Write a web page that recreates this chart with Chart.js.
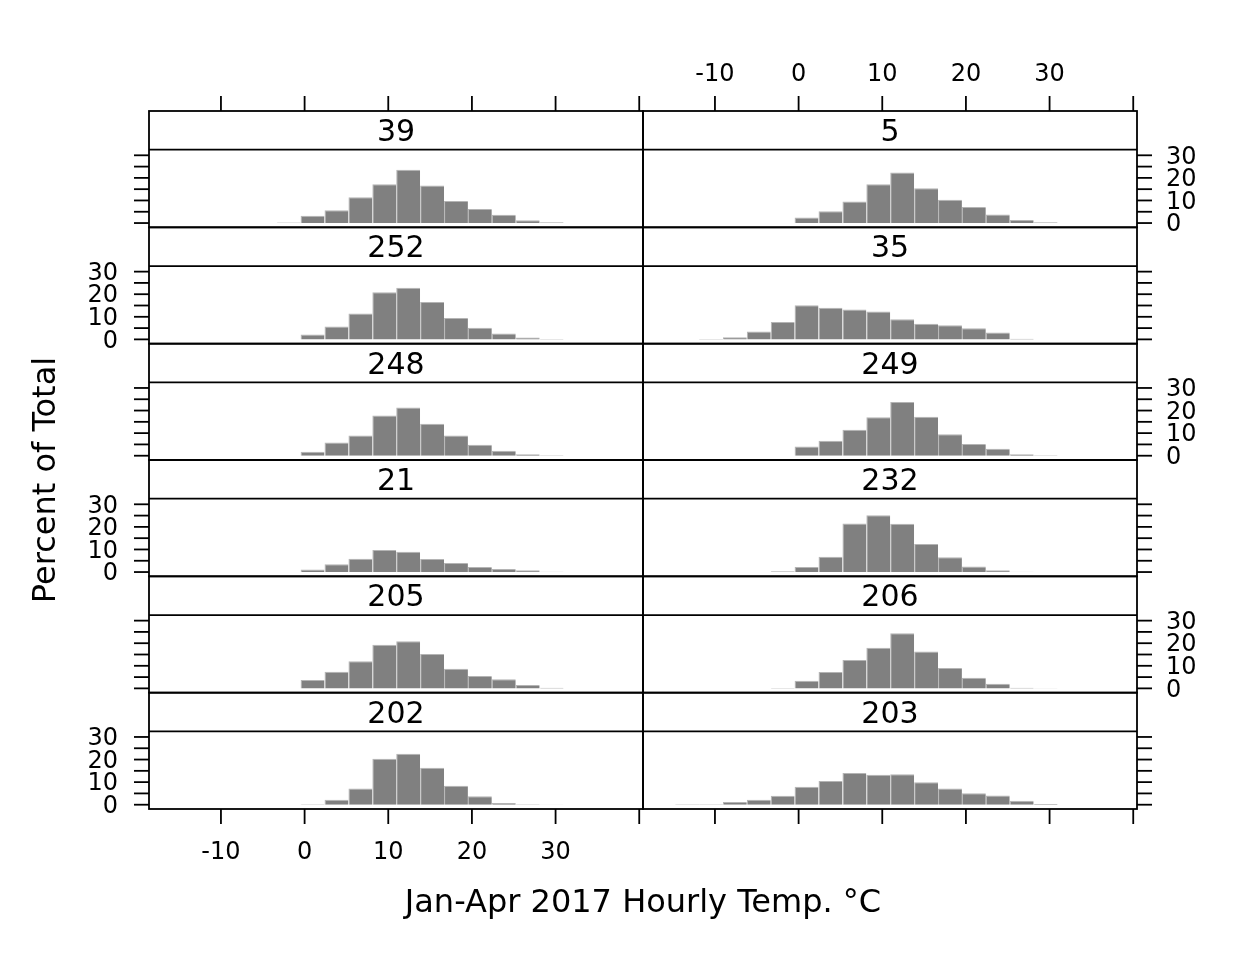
<!DOCTYPE html>
<html><head><meta charset="utf-8">
<script src="https://cdn.jsdelivr.net/npm/chart.js@4.4.1/dist/chart.umd.min.js"></script>
<style>
html,body{margin:0;padding:0;background:#fff;}
body{width:1248px;height:960px;position:relative;overflow:hidden;}
canvas{position:absolute;left:0;top:0;}
</style></head><body>
<script>
// ---- data ----
const breaks = [-14.76, -11.90, -9.05, -6.19, -3.33, -0.48, 2.38, 5.24, 8.10, 10.95, 13.81, 16.67, 19.52, 22.38, 25.24, 28.10, 30.95];
const panelNames = ['39','5','252','35','248','249','21','232','205','206','202','203'];
const s39  = [0,0,0,0,0.2,3.2,5.7,11.4,17.2,23.6,16.6,9.8,6.2,3.7,1.2,0.3];
const s5   = [0,0,0,0,0,2.5,5.2,9.5,17.2,22.4,15.4,10.3,7.1,3.8,1.4,0.3];
const s252 = [0,0,0,0,0,2.2,5.7,11.5,20.9,22.9,16.6,9.5,5.1,2.6,0.8,0.2];
const s35  = [0,0.2,0.9,3.5,7.7,15.1,14.0,13.2,12.3,8.9,6.9,6.3,4.9,3.1,0.3,0];
const s248 = [0,0,0,0,0,1.8,5.8,9.0,17.8,21.3,14.1,8.9,4.9,2.2,0.6,0.15];
const s249 = [0,0,0,0,0,4.1,6.6,11.5,17.0,23.8,17.2,9.5,5.2,3.1,0.6,0.15];
const s21  = [0,0,0,0,0,1.1,3.5,5.9,9.8,9.0,5.8,4.0,2.2,1.4,0.8,0.15];
const s232 = [0,0,0,0,0.3,2.2,6.8,21.5,25.2,21.4,12.4,6.6,2.5,0.8,0.1,0];
const s205 = [0,0,0,0,0,3.7,7.4,12.0,19.3,20.9,15.2,8.7,5.5,4.0,1.5,0.3];
const s206 = [0,0,0,0,0.15,3.4,7.2,12.6,18.0,24.4,16.3,9.0,4.7,2.0,0.3,0.05];
const s202 = [0,0,0,0,0,0.15,2.2,7.2,20.4,22.6,16.4,8.4,3.8,0.8,0.15,0.05];
const s203 = [0.15,0.15,1.2,2.2,4.0,8.0,10.5,14.0,13.3,13.5,10.0,7.2,5.1,4.1,1.7,0.3];
const xTicks = [-10, 0, 10, 20, 30, 40];
const xTickLabels = ['-10','0','10','20','30',''];
const yTicks = [0, 5, 10, 15, 20, 25, 30];
const yTickLabels = ['0','','10','','20','','30'];
const xTitle = 'Jan-Apr 2017 Hourly Temp. °C';
const yTitle = 'Percent of Total';

const series = [s39, s5, s252, s35, s248, s249, s21, s232, s205, s206, s202, s203];

// ---- layout ----
const W = 1248, H = 960;
const colX = [[149, 643], [643, 1137]];
const gridTop = 111, rowH = (809 - 111) / 6, stripH = 38.7;
const XMIN = -18.6, XMAX = 40.45, YMIN = -1.9, YMAX = 32.48;
const FONT = '"DejaVu Sans", "Liberation Sans", sans-serif';
const LW = 1.8, TICK = 15;

const mids = breaks.slice(0, -1).map((b, i) => (b + breaks[i + 1]) / 2);

series.forEach((vals, i) => {
  const r = Math.floor(i / 2), c = i % 2;
  const [x0, x1] = colX[c];
  const stripTop = gridTop + r * rowH;
  const pTop = stripTop + stripH;
  const pBot = stripTop + rowH;
  const cv = document.createElement('canvas');
  cv.width = W; cv.height = H;
  document.body.appendChild(cv);

  const framePlugin = {
    id: 'frame' + i,
    afterDraw(chart) {
      const ctx = chart.ctx;
      const xs = chart.scales.x, ys = chart.scales.y;
      ctx.save();
      ctx.strokeStyle = '#000'; ctx.fillStyle = '#000';
      ctx.lineWidth = LW;
      ctx.strokeRect(x0, stripTop, x1 - x0, rowH);
      ctx.beginPath(); ctx.moveTo(x0, pTop); ctx.lineTo(x1, pTop); ctx.stroke();
      ctx.font = '30px ' + FONT;
      ctx.textAlign = 'center'; ctx.textBaseline = 'middle';
      ctx.fillText(panelNames[i], (x0 + x1) / 2, stripTop + stripH / 2 + 3);
      ctx.font = '24px ' + FONT;
      yTicks.forEach((v, k) => {
        const y = ys.getPixelForValue(v);
        ctx.beginPath();
        if (c === 0) { ctx.moveTo(x0, y); ctx.lineTo(x0 - TICK, y); }
        else { ctx.moveTo(x1, y); ctx.lineTo(x1 + TICK, y); }
        ctx.stroke();
        const showLab = (c === 0 && r % 2 === 1) || (c === 1 && r % 2 === 0);
        if (showLab && yTickLabels[k]) {
          ctx.textBaseline = 'middle';
          if (c === 0) { ctx.textAlign = 'right'; ctx.fillText(yTickLabels[k], x0 - TICK - 16, y + 2); }
          else { ctx.textAlign = 'left'; ctx.fillText(yTickLabels[k], x1 + TICK + 14, y + 2); }
        }
      });
      xTicks.forEach((v, k) => {
        const x = xs.getPixelForValue(v);
        if (r === 0) {
          ctx.beginPath(); ctx.moveTo(x, stripTop); ctx.lineTo(x, stripTop - TICK); ctx.stroke();
          if (c === 1 && xTickLabels[k]) {
            ctx.textAlign = 'center'; ctx.textBaseline = 'middle';
            ctx.fillText(xTickLabels[k], x, 75);
          }
        }
        if (r === 5) {
          ctx.beginPath(); ctx.moveTo(x, pBot); ctx.lineTo(x, pBot + TICK); ctx.stroke();
          if (c === 0 && xTickLabels[k]) {
            ctx.textAlign = 'center'; ctx.textBaseline = 'middle';
            ctx.fillText(xTickLabels[k], x, 853);
          }
        }
      });
      if (i === 0) {
        ctx.font = '32px ' + FONT;
        ctx.textAlign = 'center'; ctx.textBaseline = 'middle';
        ctx.fillText(xTitle, 643, 904);
        ctx.save();
        ctx.translate(47, 480); ctx.rotate(-Math.PI / 2);
        ctx.fillText(yTitle, 0, 0);
        ctx.restore();
      }
      ctx.restore();
    }
  };

  new Chart(cv, {
    type: 'bar',
    data: {
      datasets: [{
        data: vals.map((v, k) => ({ x: mids[k], y: v > 0 ? v : null })),
        backgroundColor: '#808080',
        borderColor: '#b4b4b4',
        borderWidth: { top: 1, left: 1, right: 0, bottom: 0 },
        borderSkipped: false,
        barPercentage: 1,
        categoryPercentage: 1,
        inflateAmount: 0
      }]
    },
    options: {
      responsive: false,
      animation: false,
      devicePixelRatio: 1,
      events: [],
      layout: { padding: { left: x0, right: W - x1, top: pTop, bottom: H - pBot } },
      plugins: { legend: { display: false }, tooltip: { enabled: false } },
      scales: {
        x: { type: 'linear', min: XMIN, max: XMAX, display: false, offset: false },
        y: { type: 'linear', min: YMIN, max: YMAX, display: false }
      }
    },
    plugins: [framePlugin]
  });
});
</script>
</body></html>
